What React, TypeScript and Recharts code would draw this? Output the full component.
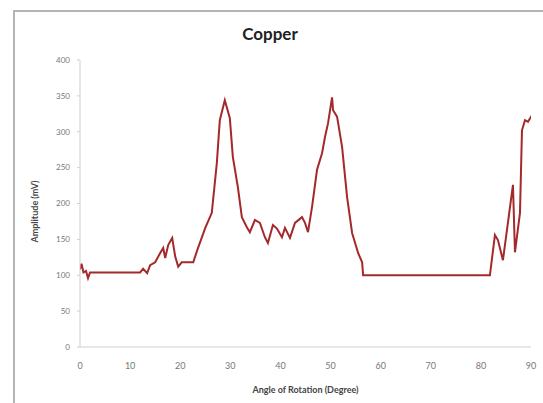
import { LineChart, Line, XAxis, YAxis, Label } from "recharts";

const angles = [
  0, 0.3, 0.7, 1.2, 1.6, 2.0, 12.0, 12.6, 13.4, 14.0, 15.0, 16.0, 16.6, 17.0, 17.6, 18.4, 19.0, 19.6, 20.3,
  22.6, 23.4, 25.0, 26.3, 27.3, 27.9, 28.9, 29.9, 30.5, 31.5, 32.3, 33.3, 33.9, 34.9, 35.9, 36.9, 37.5,
  38.5, 39.3, 40.3, 40.9, 41.9, 42.9, 44.3, 44.9, 45.5, 46.3, 47.3, 48.3, 48.9, 49.5, 50.3, 50.5, 51.3,
  52.3, 53.3, 54.3, 55.5, 56.3, 56.5, 81.8, 82.8, 83.4, 84.4, 86.4, 86.8, 87.8, 88.2, 88.8, 89.4, 90.2,
];
const amplitude = [
  108, 116, 104, 106, 96, 104, 104, 109, 103, 114, 118, 131, 138, 124, 142, 152, 126, 112, 118,
  118, 135, 166, 187, 256, 316, 344, 319, 265, 223, 181, 167, 160, 177, 173, 153, 145,
  170, 165, 153, 166, 152, 173, 181, 173, 160, 195, 247, 270, 293, 312, 348, 330, 321,
  279, 209, 159, 131, 118, 100, 100, 156, 149, 121, 226, 132, 187, 302, 316, 314, 323,
];
const xTicks = [0, 10, 20, 30, 40, 50, 60, 70, 80, 90];
const yTicks = [0, 50, 100, 150, 200, 250, 300, 350, 400];

const data = angles.map((a, i) => ({ angle: a, amp: amplitude[i] }));

const font = "Lato, 'Open Sans', sans-serif";

export default function App() {
  return (
    <div style={{ position: "fixed", left: 0, top: 0, width: 543, height: 403, background: "#fff", fontFamily: font }}>
      <div
        style={{
          position: "absolute",
          left: 13,
          top: 10,
          width: 540,
          height: 400,
          borderLeft: "2px solid #b4b4b4",
          borderTop: "2px solid #b4b4b4",
        }}
      />
      <div
        style={{
          position: "absolute",
          left: 0,
          width: 540,
          top: 23,
          textAlign: "center",
          fontSize: 17,
          fontWeight: 700,
          color: "#222",
        }}
      >
        Copper
      </div>
      <div style={{ position: "absolute", left: 0, top: 0 }}>
        <LineChart width={543} height={403} data={data} margin={{ top: 60, right: 12, left: 30, bottom: 6 }}>
          <XAxis
            dataKey="angle"
            type="number"
            domain={[0, 90]}
            ticks={xTicks}
            allowDataOverflow
            height={50}
            stroke="#cfcfcf"
            tickSize={0}
            tickMargin={16}
            tick={{ fontSize: 9, fill: "#777", fontFamily: font }}
          >
            <Label
              value="Angle of Rotation (Degree)"
              position="insideBottom"
              offset={4}
              style={{ fontSize: 9, fontWeight: 700, fill: "#444", fontFamily: font }}
            />
          </XAxis>
          <YAxis
            type="number"
            domain={[0, 400]}
            ticks={yTicks}
            width={50}
            stroke="#cfcfcf"
            tickSize={3}
            tickMargin={7}
            tick={{ fontSize: 8, fill: "#777", fontFamily: font }}
          >
            <Label
              value="Amplitude (mV)"
              angle={-90}
              position="insideLeft"
              offset={0}
              dx={5}
              dy={8}
              style={{ textAnchor: "middle", fontSize: 9, fontWeight: 700, fill: "#444", fontFamily: font }}
            />
          </YAxis>
          <Line
            type="linear"
            dataKey="amp"
            stroke="#a3292b"
            strokeWidth={2}
            dot={false}
            isAnimationActive={false}
          />
        </LineChart>
      </div>
    </div>
  );
}
